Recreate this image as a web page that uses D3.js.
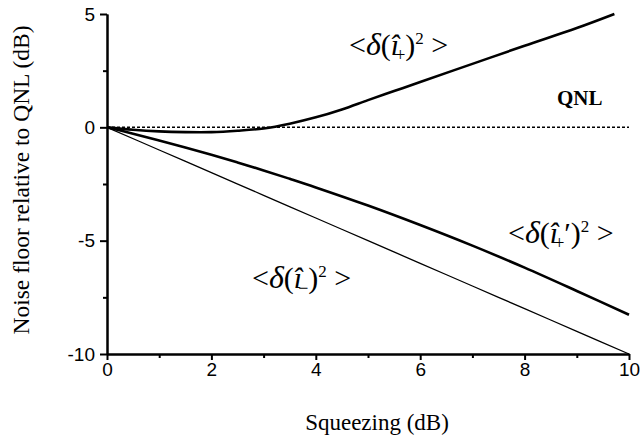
<!DOCTYPE html>
<html>
<head>
<meta charset="utf-8">
<script src="https://cdn.jsdelivr.net/npm/d3@7"></script>
<style>
  body { margin: 0; background: #fff; }
  svg { display: block; }
</style>
</head>
<body>
<div id="frame"></div>
<script>
// values (squeezing in dB vs noise floor in dB)
let iPlusX = [0, 0.5, 1, 1.5, 2, 2.5, 3, 3.5, 4, 4.5, 5, 5.5, 6, 7, 8, 9, 9.72];
let iPlusY = [0, -0.11, -0.18, -0.21, -0.21, -0.15, -0.05, 0.16, 0.44, 0.79, 1.2, 1.6, 2.0, 2.8, 3.6, 4.38, 5.0];
let iPrimeX = [0, 0.5, 1, 1.5, 2, 2.5, 3, 3.5, 4, 5, 6, 7, 8, 9, 10];
let iPrimeY = [0, -0.28, -0.58, -0.89, -1.21, -1.55, -1.9, -2.27, -2.65, -3.45, -4.31, -5.22, -6.19, -7.22, -8.27];
let iMinusX = [0, 1, 2, 3, 4, 5, 6, 7, 8, 9, 10];
let iMinusY = [0, -1, -2, -3, -4, -5, -6, -7, -8, -9, -10];
let qnlX = [0, 10];
let qnlY = [0, 0];

let xTicks = [0, 2, 4, 6, 8, 10],
    xMinor = [1, 3, 5, 7, 9],
    yTicks = [5, 0, -5, -10],
    yMinor = [2.5, -2.5, -7.5];

//Dimensions
let W = 641, H = 441;
let margin = { top: 14, right: 12, bottom: 87, left: 107 },
    width = W - margin.left - margin.right,
    height = H - margin.top - margin.bottom;

let svg = d3.select('#frame')
    .append('svg')
    .attr('width', W)
    .attr('height', H)
    .append('g')
    .attr('transform', 'translate(' + margin.left + ',' + margin.top + ')');

let x = d3.scaleLinear().domain([0, 10]).range([0, width]);
let y = d3.scaleLinear().domain([-10, 5]).range([height, 0]);

let zip = (xs, ys) => xs.map((v, i) => [v, ys[i]]);
let line = d3.line()
    .x(d => x(d[0]))
    .y(d => y(d[1]))
    .curve(d3.curveCatmullRom);

// QNL reference
svg.append('path')
    .datum(zip(qnlX, qnlY))
    .attr('d', line)
    .attr('fill', 'none')
    .attr('stroke', '#000')
    .attr('stroke-width', 1.5)
    .attr('stroke-dasharray', '3,2');

// curves
svg.append('path')
    .datum(zip(iMinusX, iMinusY))
    .attr('d', line)
    .attr('fill', 'none')
    .attr('stroke', '#000')
    .attr('stroke-width', 1.3);

svg.append('path')
    .datum(zip(iPrimeX, iPrimeY))
    .attr('d', line)
    .attr('fill', 'none')
    .attr('stroke', '#000')
    .attr('stroke-width', 2.6);

svg.append('path')
    .datum(zip(iPlusX, iPlusY))
    .attr('d', line)
    .attr('fill', 'none')
    .attr('stroke', '#000')
    .attr('stroke-width', 2.6);

// axes
function styleAxis(g) {
    g.select('.domain').attr('stroke-width', 2);
    g.selectAll('.tick line').attr('stroke-width', 2);
    g.selectAll('text')
        .attr('font-family', '"Liberation Sans", Arial, sans-serif')
        .attr('font-size', 19)
        .attr('fill', '#000');
}
let fmt = d => String(d);

svg.append('g')
    .attr('transform', 'translate(0,' + height + ')')
    .call(d3.axisBottom(x).tickValues(xTicks).tickSize(6).tickPadding(3).tickSizeOuter(0).tickFormat(fmt))
    .call(styleAxis);
svg.append('g')
    .attr('transform', 'translate(0,' + height + ')')
    .call(d3.axisBottom(x).tickValues(xMinor).tickSize(4).tickFormat('').tickSizeOuter(0))
    .call(styleAxis);

svg.append('g')
    .call(d3.axisLeft(y).tickValues(yTicks).tickSize(7).tickPadding(5).tickSizeOuter(0).tickFormat(fmt))
    .call(styleAxis);
svg.append('g')
    .call(d3.axisLeft(y).tickValues(yMinor).tickSize(4).tickFormat('').tickSizeOuter(0))
    .call(styleAxis);

// axis titles
svg.append('text')
    .attr('x', 377 - margin.left)
    .attr('y', 430 - margin.top)
    .attr('text-anchor', 'middle')
    .attr('font-family', '"Liberation Serif", "Times New Roman", serif')
    .attr('font-size', 23)
    .text('Squeezing (dB)');

svg.append('text')
    .attr('transform', 'translate(' + (29 - margin.left) + ',' + (180 - margin.top) + ') rotate(-90)')
    .attr('text-anchor', 'middle')
    .attr('font-family', '"Liberation Serif", "Times New Roman", serif')
    .attr('font-size', 23.5)
    .text('Noise floor relative to QNL (dB)');

// QNL label
svg.append('text')
    .attr('x', 557 - margin.left)
    .attr('y', 105 - margin.top)
    .attr('font-family', '"Liberation Serif", "Times New Roman", serif')
    .attr('font-size', 21)
    .attr('font-weight', 'bold')
    .text('QNL');

// <δ(î_s)²> style labels
function mathLabel(px, py, sub, prime) {
    let t = svg.append('text')
        .attr('x', px - margin.left)
        .attr('y', py - margin.top)
        .attr('font-family', '"Liberation Serif", "Times New Roman", serif')
        .attr('font-size', 30);
    t.append('tspan').text('<');
    t.append('tspan').attr('font-style', 'italic').attr('font-size', 32).text('δ');
    t.append('tspan').text('(');
    t.append('tspan').attr('font-style', 'italic').text('î');
    t.append('tspan').attr('font-size', 18).attr('dy', 6).attr('dx', -4).text(sub);
    if (prime) {
        t.append('tspan').attr('dy', -6).text('\u2032');
        t.append('tspan').text(')');
    } else {
        t.append('tspan').attr('dy', -6).text(')');
    }
    t.append('tspan').attr('font-size', 17).attr('dy', -11).text('2');
    t.append('tspan').attr('dy', 11).text(' >');
}

mathLabel(349, 55, '+', false);
mathLabel(508, 243, '+', true);
mathLabel(252, 288, '\u2212', false);
</script>
</body>
</html>
